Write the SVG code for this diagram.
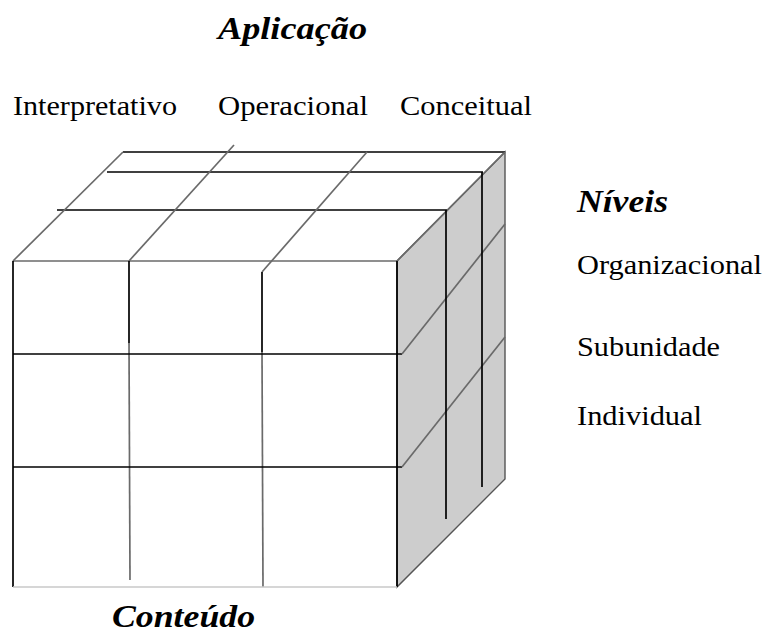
<svg xmlns="http://www.w3.org/2000/svg" width="766" height="634" viewBox="0 0 766 634">
<style>
.k{stroke:#000;stroke-width:1.7;fill:none;stroke-linecap:butt}
.g{stroke:#6a6a6a;stroke-width:1.7;fill:none}
.lg{stroke:#c8c8c8;stroke-width:1.6;fill:none}
.t{font-family:"Liberation Serif","Times New Roman",serif;font-size:28px;fill:#000}
.h{font-family:"Liberation Serif","Times New Roman",serif;font-size:32px;font-weight:bold;font-style:italic;fill:#000}
</style>
<rect width="766" height="634" fill="#fff"/>
<g id="cube">
  <polygon points="397,261 505,152 505,479 397,587" fill="#cdcdcd" stroke="#555" stroke-width="1.4"/>
  <g id="top-face">
    <line class="k" x1="123" y1="152" x2="505" y2="152"/>
    <line class="k" x1="107" y1="172" x2="483" y2="172"/>
    <line class="k" x1="57" y1="210" x2="447" y2="210"/>
    <line class="g" x1="13" y1="261" x2="397" y2="261" stroke="#9a9a9a" stroke-width="2.6"/>
    <line class="g" x1="13" y1="261" x2="123" y2="152"/>
    <line class="g" x1="129" y1="261" x2="234" y2="145"/>
    <line class="g" x1="262" y1="272" x2="367" y2="152"/>
    <line class="g" x1="397" y1="261" x2="505" y2="152"/>
  </g>
  <g id="front-face">
    <line class="k" x1="13" y1="261" x2="13" y2="587"/>
    <line class="k" x1="397" y1="261" x2="397" y2="587"/>
    <line class="k" x1="129" y1="261" x2="129" y2="343"/>
    <line class="g" x1="129" y1="343" x2="130" y2="580" stroke="#8a8a8a"/>
    <line class="k" x1="262" y1="272" x2="262" y2="352"/>
    <line class="g" x1="262" y1="352" x2="263" y2="587" stroke="#8a8a8a"/>
    <line class="k" x1="13" y1="354" x2="402" y2="354"/>
    <line class="k" x1="13" y1="467" x2="402" y2="467"/>
    <line class="lg" x1="13" y1="587" x2="397" y2="587"/>
  </g>
  <g id="right-face">
    <line class="g" x1="402" y1="354" x2="505" y2="224"/>
    <line class="g" x1="402" y1="467" x2="505" y2="337"/>
    <line class="k" x1="446" y1="210" x2="446" y2="519"/>
    <line class="k" x1="482" y1="172" x2="482" y2="487"/>
  </g>
</g>
<g id="label-aplicacao"><text class="h" x="218" y="39" textLength="149" lengthAdjust="spacingAndGlyphs">Aplicação</text></g>
<g id="label-interpretativo"><text class="t" x="13" y="115" textLength="164" lengthAdjust="spacingAndGlyphs">Interpretativo</text></g>
<g id="label-operacional"><text class="t" x="218" y="115" textLength="150" lengthAdjust="spacingAndGlyphs">Operacional</text></g>
<g id="label-conceitual"><text class="t" x="400" y="115" textLength="132" lengthAdjust="spacingAndGlyphs">Conceitual</text></g>
<g id="label-niveis"><text class="h" x="577" y="212" textLength="91" lengthAdjust="spacingAndGlyphs">Níveis</text></g>
<g id="label-organizacional"><text class="t" x="577" y="274" textLength="185" lengthAdjust="spacingAndGlyphs">Organizacional</text></g>
<g id="label-subunidade"><text class="t" x="577" y="356" textLength="143" lengthAdjust="spacingAndGlyphs">Subunidade</text></g>
<g id="label-individual"><text class="t" x="577" y="425" textLength="125" lengthAdjust="spacingAndGlyphs">Individual</text></g>
<g id="label-conteudo"><text class="h" x="112" y="627" font-size="31" textLength="143" lengthAdjust="spacingAndGlyphs">Conteúdo</text></g>
</svg>
